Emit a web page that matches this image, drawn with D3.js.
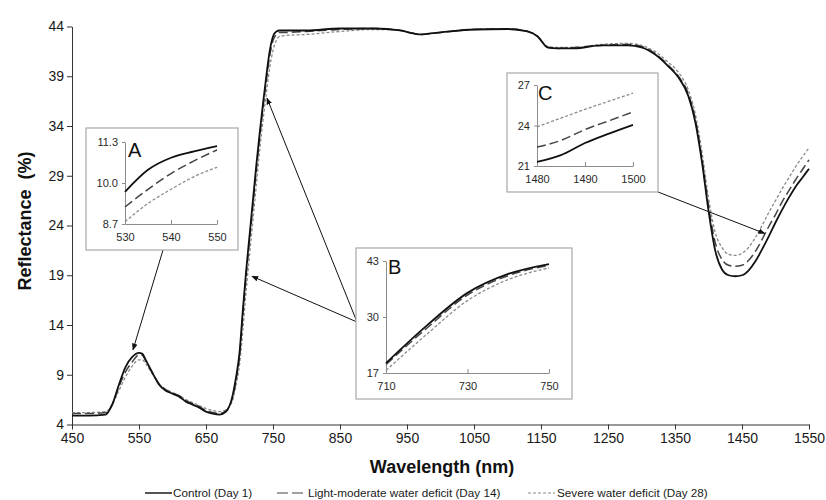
<!DOCTYPE html>
<html>
<head>
<meta charset="utf-8">
<script src="https://cdn.jsdelivr.net/npm/d3@7"></script>
<style>
  body { margin: 0; background: #fff; }
  svg { font-family: Arial, "Liberation Sans", sans-serif; }
</style>
</head>
<body>
<svg id="board" width="826" height="500"></svg>
<script>
// wavelengths (nm) sampled along the spectra
const wavelengths = [450, 475, 500, 510, 520, 530, 540, 550, 555, 560, 570, 580, 590, 600, 610, 620, 630, 640, 650, 660, 670, 680, 690, 695, 700, 705, 710, 715, 720, 725, 730, 735, 740, 745, 750, 755, 760, 770, 800, 850, 900, 940, 960, 970, 985, 1000, 1050, 1100, 1130, 1145, 1160, 1175, 1200, 1240, 1280, 1300, 1320, 1340, 1355, 1370, 1380, 1390, 1400, 1410, 1420, 1430, 1440, 1450, 1460, 1470, 1480, 1490, 1500, 1510, 1520, 1530, 1540, 1550];

const control = [4.9, 4.9, 5.0, 6.0, 8.0, 9.8, 10.8, 11.2, 11.1, 10.5, 9.2, 8.0, 7.4, 7.1, 6.8, 6.3, 6.0, 5.7, 5.3, 5.1, 5.0, 5.3, 7.0, 8.8, 11.2, 15.5, 19.5, 23.0, 26.5, 30.0, 33.2, 36.2, 39.0, 41.5, 43.0, 43.5, 43.6, 43.6, 43.6, 43.8, 43.8, 43.6, 43.3, 43.2, 43.3, 43.4, 43.7, 43.75, 43.5, 43.0, 41.9, 41.8, 41.8, 42.1, 42.1, 41.9, 41.2, 40.0, 38.9, 37.0, 34.5, 30.5, 25.5, 21.5, 19.6, 19.0, 18.9, 19.0, 19.5, 20.4, 21.6, 22.9, 24.3, 25.6, 26.8, 27.9, 28.8, 29.7];

const lightModerate = [5.1, 5.1, 5.2, 6.0, 7.8, 9.3, 10.3, 11.0, 10.95, 10.4, 9.2, 8.1, 7.5, 7.2, 6.9, 6.4, 6.1, 5.8, 5.4, 5.2, 5.1, 5.4, 6.8, 8.5, 10.8, 15.0, 19.0, 22.5, 26.0, 29.5, 32.8, 35.8, 38.5, 41.0, 42.6, 43.2, 43.4, 43.4, 43.5, 43.7, 43.8, 43.6, 43.3, 43.2, 43.3, 43.4, 43.7, 43.75, 43.5, 43.0, 41.9, 41.8, 41.9, 42.1, 42.2, 42.0, 41.3, 40.1, 39.0, 37.2, 34.8, 30.8, 26.0, 22.3, 20.6, 20.0, 19.9, 20.0, 20.5, 21.4, 22.6, 23.9, 25.1, 26.4, 27.5, 28.6, 29.6, 30.6];

const severe = [5.2, 5.2, 5.3, 6.0, 7.4, 8.8, 9.9, 10.5, 10.5, 10.1, 9.1, 8.1, 7.5, 7.2, 6.9, 6.5, 6.2, 5.9, 5.6, 5.4, 5.3, 5.5, 6.5, 8.0, 10.0, 13.5, 17.5, 21.0, 24.5, 28.0, 31.5, 34.5, 37.3, 39.8, 41.6, 42.6, 43.0, 43.1, 43.2, 43.5, 43.7, 43.6, 43.3, 43.2, 43.3, 43.4, 43.7, 43.75, 43.5, 43.0, 42.0, 41.9, 41.9, 42.2, 42.3, 42.1, 41.5, 40.4, 39.4, 37.6, 35.3, 31.5, 26.8, 23.3, 21.8, 21.1, 21.0, 21.2, 21.8, 22.8, 24.0, 25.3, 26.5, 27.7, 28.8, 29.9, 30.9, 31.8];

const seriesNames = ["Control (Day 1)", "Light-moderate water deficit (Day 14)", "Severe water deficit (Day 28)"];

const xTicks = [450, 550, 650, 750, 850, 950, 1050, 1150, 1250, 1350, 1450, 1550];
const yTicks = [4, 9, 14, 19, 24, 29, 34, 39, 44];

// inset A (530-550 nm)
const insetAWl = [530, 535, 540, 545, 550];
const insetAControl = [9.72, 10.42, 10.8, 11.0, 11.17];
const insetALight = [9.24, 9.8, 10.3, 10.7, 11.05];
const insetASevere = [8.77, 9.35, 9.8, 10.2, 10.5];
const insetAYTicks = [8.7, 10.0, 11.3];
const insetAXTicks = [530, 540, 550];

// inset B (710-750 nm)
const insetBWl = [710, 720, 730, 740, 750];
const insetBControl = [19.3, 28.0, 35.6, 40.0, 42.3];
const insetBLight = [19.0, 27.4, 35.1, 39.6, 42.0];
const insetBSevere = [17.6, 26.0, 33.8, 38.7, 41.4];
const insetBYTicks = [17, 30, 43];
const insetBXTicks = [710, 730, 750];

// inset C (1480-1500 nm)
const insetCWl = [1480, 1485, 1490, 1495, 1500];
const insetCControl = [21.3, 21.8, 22.7, 23.4, 24.05];
const insetCLight = [22.4, 22.9, 23.7, 24.35, 25.0];
const insetCSevere = [23.9, 24.55, 25.2, 25.8, 26.4];
const insetCYTicks = [21, 24, 27];
const insetCXTicks = [1480, 1490, 1500];

const styles = [
    { stroke: "#111", width: 1.8, dash: null },
    { stroke: "#444", width: 1.5, dash: "9,4" },
    { stroke: "#8a8a8a", width: 1.3, dash: "3,2" }
];

const svg = d3.select("#board");

const margin = { left: 72, right: 17, top: 26.5, bottom: 75.5 };
const width = 826 - margin.left - margin.right;
const height = 500 - margin.top - margin.bottom;

const x = d3.scaleLinear().domain([450, 1550]).range([margin.left, margin.left + width]);
const y = d3.scaleLinear().domain([4, 44]).range([margin.top + height, margin.top]);

svg.append("defs").append("marker")
    .attr("id", "arrow")
    .attr("viewBox", "0 0 10 10")
    .attr("refX", 9)
    .attr("refY", 5)
    .attr("markerWidth", 7)
    .attr("markerHeight", 7)
    .attr("markerUnits", "userSpaceOnUse")
    .attr("orient", "auto")
    .append("path")
    .attr("d", "M0,1 L10,5 L0,9 Z")
    .attr("fill", "#111");

// axes
const xAxis = svg.append("g")
    .attr("transform", `translate(0,${margin.top + height})`)
    .call(d3.axisBottom(x).tickValues(xTicks).tickSize(5).tickPadding(4).tickSizeOuter(0).tickFormat(d3.format("d")));
const yAxis = svg.append("g")
    .attr("transform", `translate(${margin.left},0)`)
    .call(d3.axisLeft(y).tickValues(yTicks).tickSize(5).tickPadding(3).tickSizeOuter(0));

[xAxis, yAxis].forEach(g => {
    g.selectAll("path, line").attr("stroke", "#333");
    g.selectAll("text").attr("font-size", "14px").attr("fill", "#1a1a1a");
});

svg.append("text")
    .attr("x", 442)
    .attr("y", 473)
    .attr("text-anchor", "middle")
    .attr("font-size", "18px")
    .attr("font-weight", "bold")
    .attr("fill", "#111")
    .text("Wavelength (nm)");

svg.append("text")
    .attr("transform", "translate(31,221) rotate(-90)")
    .attr("text-anchor", "middle")
    .attr("font-size", "18px")
    .attr("font-weight", "bold")
    .attr("fill", "#111")
    .style("white-space", "pre")
    .text("Reflectance  (%)");

function drawSeries(g, wl, lists, sx, sy, scale) {
    const line = d3.line()
        .x(d => sx(d[0]))
        .y(d => sy(d[1]))
        .curve(d3.curveMonotoneX);
    // draw severe first so control stays on top
    [2, 1, 0].forEach(i => {
        const st = styles[i];
        g.append("path")
            .datum(wl.map((w, j) => [w, lists[i][j]]))
            .attr("fill", "none")
            .attr("stroke", st.stroke)
            .attr("stroke-width", st.width * scale)
            .attr("stroke-dasharray", st.dash)
            .attr("d", line);
    });
}

drawSeries(svg.append("g"), wavelengths, [control, lightModerate, severe], x, y, 1);

// arrows from the insets to the curves
const arrows = [
    { from: [163, 250], to: [541, 11.5] },
    { from: [357, 322], to: [718.5, 18.9] },
    { from: [357, 322], to: [741, 36.8] },
    { from: [658, 192], to: [1484, 23.2] }
];

svg.selectAll("line.arrow")
    .data(arrows)
    .join("line")
    .attr("class", "arrow")
    .attr("x1", d => d.from[0])
    .attr("y1", d => d.from[1])
    .attr("x2", d => x(d.to[0]))
    .attr("y2", d => y(d.to[1]))
    .attr("stroke", "#111")
    .attr("stroke-width", 1)
    .attr("marker-end", "url(#arrow)");

function drawInset(box, axisBox, wl, lists, xDomain, yDomain, xt, yt, label, labelPos, fmt) {
    const g = svg.append("g");
    g.append("rect")
        .attr("x", box[0])
        .attr("y", box[1])
        .attr("width", box[2] - box[0])
        .attr("height", box[3] - box[1])
        .attr("fill", "#fff")
        .attr("stroke", "#a8a8a8")
        .attr("stroke-width", 1.2);

    const sx = d3.scaleLinear().domain(xDomain).range([axisBox[0], axisBox[2]]);
    const sy = d3.scaleLinear().domain(yDomain).range([axisBox[3], axisBox[1]]);

    const ax = g.append("g")
        .attr("transform", `translate(0,${axisBox[3]})`)
        .call(d3.axisBottom(sx).tickValues(xt).tickSize(-4).tickPadding(9).tickSizeOuter(0).tickFormat(d3.format("d")));
    const ay = g.append("g")
        .attr("transform", `translate(${axisBox[0]},0)`)
        .call(d3.axisLeft(sy).tickValues(yt).tickSize(3).tickPadding(4).tickSizeOuter(0).tickFormat(fmt));
    [ax, ay].forEach(a => {
        a.selectAll("path, line").attr("stroke", "#8c8c8c");
        a.selectAll("text").attr("font-size", "11px").attr("fill", "#2a2a2a");
    });

    drawSeries(g, wl, lists, sx, sy, 1);

    g.append("text")
        .attr("x", labelPos[0])
        .attr("y", labelPos[1])
        .attr("font-size", "20px")
        .attr("fill", "#111")
        .text(label);
}

drawInset([86, 128, 238, 250], [125, 142, 217, 224], insetAWl, [insetAControl, insetALight, insetASevere],
    [530, 550], [8.7, 11.3], insetAXTicks, insetAYTicks, "A", [128, 157], d3.format(".1f"));
drawInset([356, 248, 572, 399], [386, 261, 549, 373], insetBWl, [insetBControl, insetBLight, insetBSevere],
    [710, 750], [17, 43], insetBXTicks, insetBYTicks, "B", [388, 274], d3.format("d"));
drawInset([507, 73, 658, 192], [537, 85, 633, 166], insetCWl, [insetCControl, insetCLight, insetCSevere],
    [1480, 1500], [21, 27], insetCXTicks, insetCYTicks, "C", [538, 100], d3.format("d"));

// legend
const legendItems = [
    { x1: 145, x2: 172, tx: 173 },
    { x1: 277, x2: 307, tx: 308 },
    { x1: 528, x2: 555, tx: 557 }
];
const legend = svg.append("g");
legendItems.forEach((it, i) => {
    legend.append("line")
        .attr("x1", it.x1)
        .attr("x2", it.x2)
        .attr("y1", 493)
        .attr("y2", 493)
        .attr("stroke", styles[i].stroke)
        .attr("stroke-width", styles[i].width * 0.8)
        .attr("stroke-dasharray", i === 1 ? "11,4" : styles[i].dash);
    legend.append("text")
        .attr("x", it.tx)
        .attr("y", 497)
        .attr("font-size", "11.7px")
        .attr("fill", "#1a1a1a")
        .text(seriesNames[i]);
});
</script>
</body>
</html>
